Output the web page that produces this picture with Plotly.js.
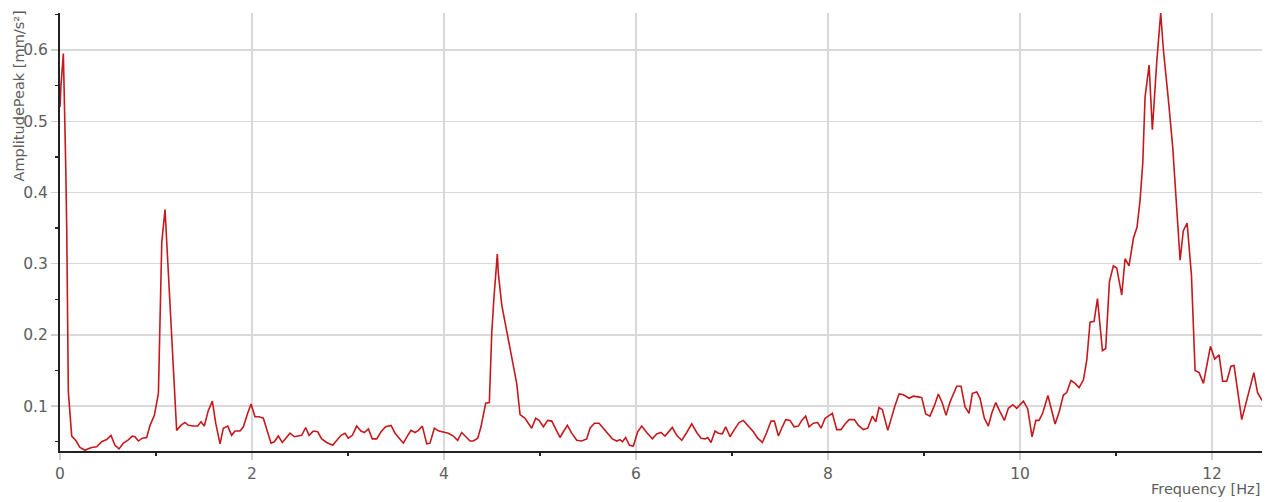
<!DOCTYPE html>
<html>
<head>
<meta charset="utf-8">
<script src="https://cdn.plot.ly/plotly-3.0.1.min.js"></script>
<style>html,body{margin:0;padding:0;background:#fff;}#chart{width:1273px;height:502px;}</style>
</head>
<body>
<div id="chart"></div>
<script>
// Frequency [Hz]
const freq = [
0,0.01,0.035,0.05,0.06,0.07,0.087,0.122,0.163,0.208,0.26,0.295,0.33,0.382,0.434,0.486,0.531,0.573,0.615,0.66,
0.705,0.753,0.781,0.816,0.858,0.903,0.938,0.983,1.007,1.025,1.06,1.094,1.215,1.267,1.302,1.337,1.389,1.434,1.469,1.503,
1.545,1.587,1.622,1.667,1.701,1.747,1.788,1.823,1.875,1.91,1.955,1.99,2.031,2.073,2.118,2.153,2.198,2.233,2.274,2.316,
2.361,2.396,2.441,2.517,2.559,2.594,2.639,2.684,2.726,2.778,2.84,2.882,2.927,2.969,3.003,3.045,3.09,3.135,3.17,3.212,
3.253,3.299,3.344,3.392,3.448,3.49,3.531,3.576,3.618,3.656,3.698,3.733,3.774,3.82,3.854,3.899,3.948,3.993,4.045,4.097,
4.142,4.184,4.226,4.271,4.306,4.351,4.385,4.434,4.472,4.497,4.521,4.555,4.566,4.601,4.757,4.792,4.844,4.913,4.955,4.99,
5.035,5.08,5.122,5.163,5.208,5.243,5.285,5.33,5.382,5.434,5.486,5.521,5.566,5.615,5.66,5.705,5.753,5.799,5.833,5.858,
5.892,5.931,5.972,6.017,6.059,6.111,6.17,6.215,6.26,6.302,6.337,6.378,6.424,6.476,6.528,6.58,6.632,6.677,6.719,6.747,
6.781,6.823,6.858,6.899,6.934,6.979,7.024,7.073,7.118,7.17,7.222,7.267,7.316,7.361,7.406,7.441,7.483,7.524,7.559,7.604,
7.646,7.691,7.726,7.767,7.802,7.847,7.892,7.927,7.969,8.003,8.045,8.09,8.135,8.177,8.219,8.274,8.316,8.368,8.413,8.462,
8.497,8.531,8.566,8.622,8.663,8.698,8.74,8.785,8.844,8.889,8.941,8.976,9.017,9.062,9.108,9.149,9.191,9.229,9.271,9.306,
9.34,9.385,9.427,9.469,9.503,9.549,9.583,9.628,9.67,9.705,9.747,9.792,9.837,9.878,9.924,9.965,10.035,10.08,10.125,10.165,
10.198,10.235,10.29,10.365,10.408,10.451,10.486,10.53,10.573,10.615,10.66,10.695,10.729,10.771,10.806,10.858,10.892,10.931,10.972,11.007,
11.059,11.094,11.135,11.181,11.218,11.25,11.278,11.302,11.344,11.378,11.424,11.465,11.493,11.545,11.59,11.667,11.70,11.74,11.785,11.823,
11.865,11.91,11.944,11.983,12.028,12.073,12.11,12.153,12.196,12.229,12.309,12.361,12.396,12.435,12.474,12.52
];
// AmplitudePeak [mm/s²]
const amplitude = [
0.52,0.55,0.595,0.516,0.436,0.35,0.12,0.058,0.052,0.042,0.038,0.040,0.042,0.043,0.050,0.053,0.059,0.045,0.040,0.048,
0.052,0.058,0.057,0.051,0.055,0.056,0.073,0.087,0.106,0.118,0.33,0.376,0.066,0.074,0.077,0.073,0.072,0.072,0.078,0.072,
0.094,0.107,0.076,0.047,0.069,0.072,0.059,0.065,0.065,0.071,0.090,0.103,0.085,0.085,0.083,0.066,0.048,0.050,0.058,0.049,
0.057,0.062,0.057,0.059,0.070,0.059,0.065,0.064,0.054,0.049,0.045,0.052,0.059,0.062,0.055,0.059,0.072,0.065,0.063,0.068,
0.054,0.054,0.064,0.071,0.073,0.062,0.056,0.048,0.058,0.066,0.063,0.066,0.072,0.047,0.048,0.069,0.065,0.064,0.062,0.058,
0.052,0.063,0.057,0.051,0.051,0.055,0.071,0.104,0.105,0.202,0.254,0.3135,0.286,0.242,0.132,0.088,0.083,0.069,0.083,0.080,
0.071,0.080,0.079,0.069,0.056,0.064,0.073,0.062,0.052,0.051,0.054,0.069,0.076,0.076,0.069,0.061,0.054,0.051,0.053,0.050,
0.056,0.045,0.044,0.064,0.072,0.063,0.054,0.061,0.063,0.058,0.064,0.070,0.059,0.052,0.063,0.075,0.063,0.055,0.054,0.056,
0.049,0.065,0.062,0.061,0.071,0.057,0.067,0.077,0.080,0.072,0.064,0.055,0.049,0.063,0.079,0.079,0.058,0.071,0.081,0.080,
0.071,0.072,0.080,0.086,0.071,0.076,0.077,0.069,0.083,0.086,0.090,0.067,0.067,0.075,0.081,0.081,0.073,0.067,0.069,0.086,
0.078,0.098,0.095,0.066,0.085,0.101,0.117,0.116,0.111,0.114,0.113,0.112,0.089,0.086,0.101,0.117,0.104,0.087,0.106,0.116,
0.128,0.128,0.099,0.090,0.118,0.120,0.111,0.083,0.072,0.090,0.105,0.092,0.080,0.097,0.102,0.097,0.107,0.096,0.057,0.080,
0.080,0.090,0.115,0.075,0.092,0.1155,0.119,0.136,0.132,0.126,0.137,0.165,0.218,0.219,0.251,0.178,0.181,0.275,0.297,0.294,
0.256,0.307,0.297,0.336,0.351,0.389,0.441,0.534,0.579,0.488,0.584,0.652,0.600,0.530,0.464,0.305,0.346,0.357,0.284,0.150,
0.147,0.132,0.158,0.184,0.166,0.172,0.135,0.135,0.156,0.157,0.081,0.108,0.123,0.147,0.119,0.108
];
const xTitle = 'Frequency [Hz]';
const yTitle = 'AmplitudePeak [mm/s²]';

const tickFont = {family: 'DejaVu Sans, Verdana, sans-serif', size: 15.5, color: '#5e5e5e'};
const titleFont = {family: 'DejaVu Sans, Verdana, sans-serif', size: 14.5, color: '#5e5e5e'};

const trace = {
  x: freq, y: amplitude, type: 'scatter', mode: 'lines',
  line: {color: '#c41a1e', width: 1.6},
  hoverinfo: 'skip'
};

const axisCommon = {
  showgrid: true, gridcolor: '#d9d9d9', gridwidth: 1.5,
  showline: true, linecolor: '#222222', linewidth: 2,
  ticks: 'outside', ticklen: 7, tickcolor: '#d0d0d0', tickwidth: 1.5,
  zeroline: false, tickfont: tickFont
};

const layout = {
  width: 1273, height: 502,
  margin: {l: 60, r: 11, t: 13, b: 51, pad: 0},
  paper_bgcolor: '#ffffff', plot_bgcolor: '#ffffff',
  showlegend: false,
  xaxis: Object.assign({}, axisCommon, {
    range: [0, 12.52], tick0: 0, dtick: 2,
    minor: {dtick: 1, tick0: 0, ticks: 'outside', ticklen: 3, tickcolor: '#222222', tickwidth: 1.5, showgrid: false}
  }),
  yaxis: Object.assign({}, axisCommon, {
    range: [0.037, 0.652], tick0: 0, dtick: 0.1,
    minor: {dtick: 0.05, tick0: 0, ticks: 'outside', ticklen: 3, tickcolor: '#222222', tickwidth: 1.5, showgrid: false}
  }),
  annotations: [
    {text: xTitle, xref: 'paper', yref: 'paper', x: 1, y: 0, xanchor: 'right', yanchor: 'top',
     yshift: -28, showarrow: false, font: titleFont},
    {text: yTitle, xref: 'paper', yref: 'paper', x: 0, y: 1, xanchor: 'center', yanchor: 'top',
     xshift: -42, yshift: 4, textangle: -90, showarrow: false, font: titleFont}
  ]
};

Plotly.newPlot('chart', [trace], layout, {staticPlot: true, displayModeBar: false});
</script>
</body>
</html>
